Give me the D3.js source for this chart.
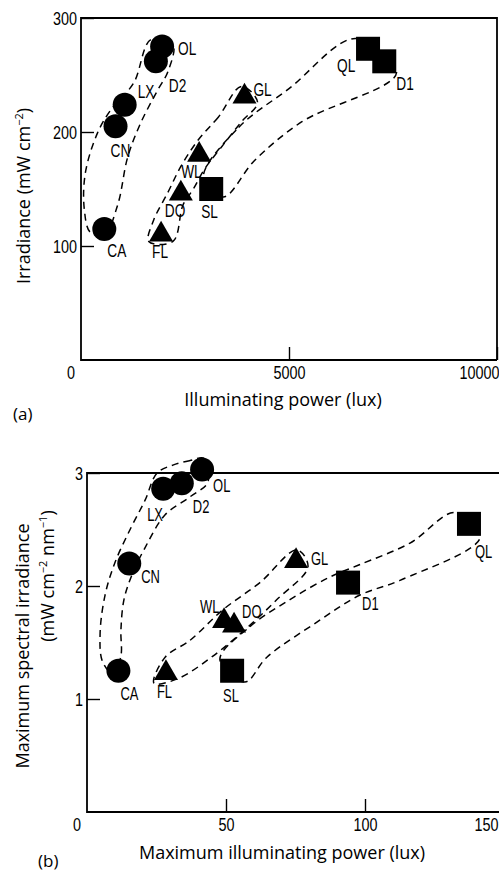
<!DOCTYPE html>
<html>
<head>
<meta charset="utf-8">
<script src="https://cdn.jsdelivr.net/npm/d3@7"></script>
<style>
  body { margin: 0; background: #fff; }
  svg { display: block; }
  .tick text, .pt { font-family: "Liberation Sans", Arial, sans-serif; }
  .title { font-family: "Open Sans", sans-serif; }
</style>
</head>
<body>
<svg id="fig" width="499" height="872"></svg>
<script>
// ---- panel (a): irradiance vs illuminating power ----
const circleNames = ["CA", "CN", "LX", "D2", "OL"];
const triNames = ["FL", "DO", "WL", "GL"];
const sqNames = ["SL", "QL", "D1"];

const circleLuxA = [560, 830, 1050, 1800, 1950];
const circleIrrA = [115, 205, 224, 262, 275];
const triLuxA = [1925, 2400, 2840, 3930];
const triIrrA = [110, 146, 180, 231];
const sqLuxA = [3130, 6900, 7290];
const sqIrrA = [150, 273, 262];

const xTicksA = [5000, 10000];
const yTicksA = [100, 200, 300];

// dashed envelopes, data units [lux, mW cm-2]
const loopCirclesA = [[2210, 277], [1678, 281], [1266, 243], [709, 219], [395, 199], [104, 164], [80, 132], [225, 112],
  [560, 110], [881, 136], [1123, 178], [1436, 208], [1847, 237], [2089, 253]];
const loopTrisA = [[3857, 240], [3300, 213], [2816, 193], [2404, 170], [2089, 147], [1750, 123], [1629, 104],
  [2210, 104], [2452, 136], [2700, 150], [2961, 167], [3445, 190], [3857, 209], [4245, 226]];
const loopSqA = [[2942, 160], [3789, 204], [5000, 238], [6598, 282], [7585, 252], [5310, 209], [4172, 175], [3421, 143]];

// ---- panel (b): maximum spectral irradiance vs maximum illuminating power ----
const circleLuxB = [11.3, 15.2, 27.4, 34.1, 41.4];
const circleIrrB = [1.25, 2.20, 2.86, 2.91, 3.03];
const triLuxB = [28.4, 52.9, 49.3, 75.2];
const triIrrB = [1.23, 1.65, 1.69, 2.22];
const sqLuxB = [52.2, 137.4, 93.9];
const sqIrrB = [1.25, 2.55, 2.03];

const xTicksB = [50, 100, 150];
const yTicksB = [1, 2, 3];

const loopCirclesB = [[42.1, 3.13], [37.1, 3.11], [30.9, 3.07], [25.2, 3.0], [20.9, 2.76], [15.5, 2.5], [10.1, 2.21],
  [6.5, 1.92], [4.7, 1.57], [5.6, 1.33], [9.5, 1.22], [12.2, 1.38], [12.2, 1.61], [13.3, 1.88], [16.2, 2.1],
  [20.9, 2.34], [28.1, 2.63], [37.1, 2.79], [43.5, 2.92]];
const loopTrisB = [[28.1, 1.37], [37.1, 1.52], [48.9, 1.79], [62.2, 2.03], [75.5, 2.32], [79.5, 2.17],
  [68.3, 1.88], [57.6, 1.63], [45.3, 1.38], [32.7, 1.18], [24.1, 1.14]];
const loopSqB = [[47.8, 1.35], [58.6, 1.64], [73.0, 1.88], [87.4, 2.08], [98.2, 2.19], [116.2, 2.38], [132.4, 2.65],
  [141.4, 2.43], [112.6, 2.05], [98.2, 1.92], [82.7, 1.68], [64.7, 1.37], [56.8, 1.15]];

// label offsets (px) relative to marker centre
const labelPosA = {
  OL: [16, 9], D2: [13, 31], LX: [13, -7], CN: [-5, 31], CA: [3, 28],
  FL: [-9, 23], DO: [-16, 23], WL: [-18, 23], GL: [9, -1],
  SL: [-10, 29], QL: [-31, 23], D1: [12, 29]
};
const labelPosB = {
  OL: [11, 22], D2: [11, 30], LX: [-16, 32], CN: [12, 20], CA: [2, 29],
  FL: [-9, 25], DO: [8, -8], WL: [-24, -8], GL: [15, 4],
  SL: [-9, 31], QL: [6, 34], D1: [14, 27]
};

const svg = d3.select("#fig");

// narrow the typewriter-like lettering of the original
function squeeze(sel, k) {
  sel.each(function () {
    const el = d3.select(this);
    const x = +el.attr("x") || 0;
    el.attr("x", x / k).attr("transform", `scale(${k},1)`);
  });
}

function panel(cfg) {
  const x = d3.scaleLinear().domain(cfg.xDomain).range(cfg.xRange);
  const y = d3.scaleLinear().domain(cfg.yDomain).range(cfg.yRange);
  const g = svg.append("g");

  // axes with inward ticks
  const ax = g.append("g").attr("transform", `translate(0,${cfg.yRange[0]})`)
    .call(d3.axisBottom(x).tickValues(cfg.xTicks).tickSizeInner(-13).tickSizeOuter(0).tickPadding(6).tickFormat(d3.format("d")));
  const ay = g.append("g").attr("transform", `translate(${cfg.xRange[0]},0)`)
    .call(d3.axisLeft(y).tickValues(cfg.yTicks).tickSizeInner(-13).tickSizeOuter(0).tickPadding(4).tickFormat(d3.format("d")));
  [ax, ay].forEach(a => {
    a.select(".domain").remove();
    a.selectAll("line").attr("stroke", "#000").attr("stroke-width", 1.4);
    a.selectAll("text").attr("font-size", 18).attr("fill", "#000");
  });
  // keep the last x label inside the page
  ax.selectAll(".tick:last-of-type text").attr("text-anchor", "end").attr("x", cfg.lastDx);
  ay.selectAll("text").attr("dy", "0.36em");
  squeeze(ax.selectAll("text"), 0.8);
  squeeze(ay.selectAll("text"), 0.8);

  const zero = g.append("text").attr("class", "pt").attr("x", x(0) - cfg.zeroDx).attr("y", y(0) + 19)
    .attr("text-anchor", "middle").attr("font-size", 18).text("0");
  squeeze(zero, 0.8);

  // frame
  const x0 = x(cfg.xDomain[0]), x1 = x(cfg.xDomain[1]), y0 = y(cfg.yDomain[0]), y1 = y(cfg.yDomain[1]);
  g.append("path").attr("d", `M${x1},${y0}H${x0}V${y1}H${x1}V${y0}`)
    .attr("fill", "none").attr("stroke", "#000").attr("stroke-width", 1.8);

  // dashed envelopes
  const line = d3.line().x(d => x(d[0])).y(d => y(d[1])).curve(d3.curveCatmullRomClosed.alpha(0.5));
  cfg.loops.forEach(l => g.append("path").attr("d", line(l)).attr("fill", "none")
    .attr("stroke", "#000").attr("stroke-width", 1.5).attr("stroke-dasharray", "7,5"));

  // markers
  circleNames.forEach((n, i) => g.append("circle").attr("cx", x(cfg.cx[i])).attr("cy", y(cfg.cy[i])).attr("r", 12));
  const tri = d3.symbol(d3.symbolTriangle, 250);
  triNames.forEach((n, i) => g.append("path").attr("d", tri())
    .attr("transform", `translate(${x(cfg.tx[i])},${y(cfg.ty[i])})`));
  sqNames.forEach((n, i) => g.append("rect").attr("x", x(cfg.sx[i]) - 12).attr("y", y(cfg.sy[i]) - 12)
    .attr("width", 24).attr("height", 24));

  // point labels
  const labs = [];
  circleNames.forEach((n, i) => labs.push([n, cfg.cx[i], cfg.cy[i]]));
  triNames.forEach((n, i) => labs.push([n, cfg.tx[i], cfg.ty[i]]));
  sqNames.forEach((n, i) => labs.push([n, cfg.sx[i], cfg.sy[i]]));
  labs.forEach(([n, vx, vy]) => {
    const o = cfg.labelPos[n];
    const lt = g.append("text").attr("class", "pt").attr("x", x(vx) + o[0]).attr("y", y(vy) + o[1])
      .attr("font-size", cfg.labelSize).text(n);
    squeeze(lt, 0.72);
  });
  return { x, y };
}

panel({
  xDomain: [0, 10000], yDomain: [0, 300], xRange: [81, 497], yRange: [360, 18],
  xTicks: xTicksA, yTicks: yTicksA, lastDx: 2, zeroDx: 10,
  cx: circleLuxA, cy: circleIrrA, tx: triLuxA, ty: triIrrA, sx: sqLuxA, sy: sqIrrA,
  loops: [loopCirclesA, loopTrisA, loopSqA], labelPos: labelPosA, labelSize: 19
});

panel({
  xDomain: [0, 150], yDomain: [0, 3], xRange: [87, 504], yRange: [812, 473],
  xTicks: xTicksB, yTicks: yTicksB, lastDx: -6, zeroDx: 10,
  cx: circleLuxB, cy: circleIrrB, tx: triLuxB, ty: triIrrB, sx: sqLuxB, sy: sqIrrB,
  loops: [loopCirclesB, loopTrisB, loopSqB], labelPos: labelPosB, labelSize: 18
});

// titles
const t = svg.append("g").attr("class", "title").attr("fill", "#000");
t.append("text").attr("x", 283).attr("y", 406).attr("text-anchor", "middle").attr("font-size", 18)
  .text("Illuminating power (lux)");
t.append("text").attr("x", 13).attr("y", 420).attr("font-size", 17).text("(a)");
const ta = t.append("text").attr("transform", "translate(30,196) rotate(-90)").attr("text-anchor", "middle").attr("font-size", 18);
ta.append("tspan").text("Irradiance (mW cm");
ta.append("tspan").attr("dy", -7).attr("font-size", 11).text("−2");
ta.append("tspan").attr("dy", 7).text(")");

t.append("text").attr("x", 282).attr("y", 859).attr("text-anchor", "middle").attr("font-size", 18)
  .text("Maximum illuminating power (lux)");
t.append("text").attr("x", 38).attr("y", 867).attr("font-size", 17).text("(b)");
t.append("text").attr("transform", "translate(29,646) rotate(-90)").attr("text-anchor", "middle").attr("font-size", 18)
  .text("Maximum spectral irradiance");
const tb = t.append("text").attr("transform", "translate(54,576) rotate(-90)").attr("text-anchor", "middle").attr("font-size", 18);
tb.append("tspan").text("(mW cm");
tb.append("tspan").attr("dy", -7).attr("font-size", 11).text("−2");
tb.append("tspan").attr("dy", 7).text(" nm");
tb.append("tspan").attr("dy", -7).attr("font-size", 11).text("−1");
tb.append("tspan").attr("dy", 7).text(")");
</script>
</body>
</html>
